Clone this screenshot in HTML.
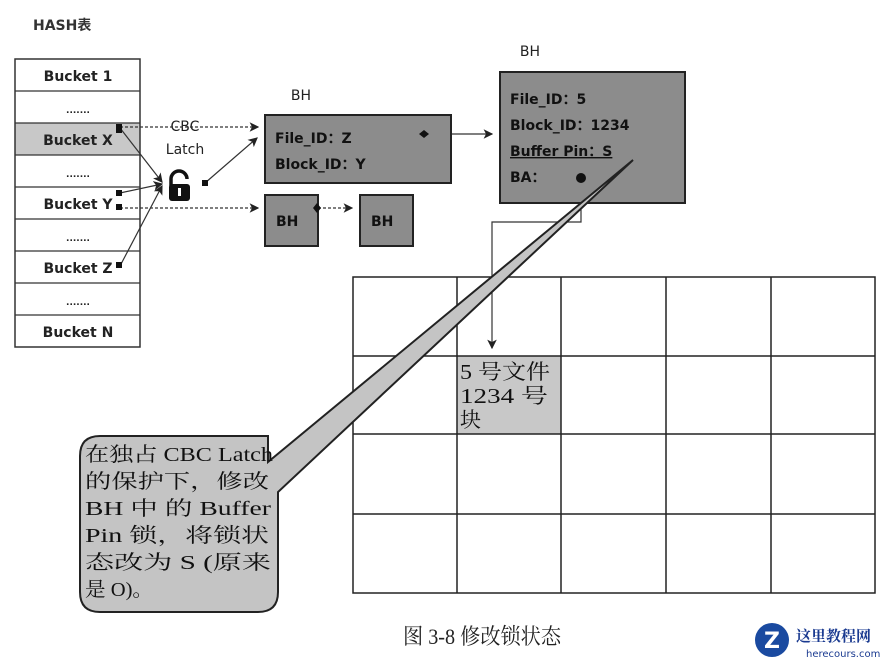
<!DOCTYPE html>
<html><head><meta charset="utf-8"><style>
body{margin:0;width:889px;height:665px;background:#fff;overflow:hidden}
</style></head><body>
<svg width="889" height="665" xmlns="http://www.w3.org/2000/svg" font-family="'DejaVu Sans','Liberation Sans',sans-serif">
<defs><marker id="a" markerWidth="8" markerHeight="8" refX="7" refY="4" orient="auto"><path d="M0,0 L8,4 L0,8 L2,4z" fill="#222"/></marker></defs>
<text x="33" y="30" font-size="14" font-weight="bold" fill="#333" font-family="'DejaVu Sans','Noto Sans CJK SC',sans-serif">HASH表</text>
<rect x="15" y="123" width="125" height="32" fill="#c8c8c8"/>
<rect x="15" y="59" width="125" height="288" fill="none" stroke="#333" stroke-width="1.5"/>
<g stroke="#333" stroke-width="1.2">
<line x1="15" y1="91" x2="140" y2="91"/><line x1="15" y1="123" x2="140" y2="123"/><line x1="15" y1="155" x2="140" y2="155"/><line x1="15" y1="187" x2="140" y2="187"/><line x1="15" y1="219" x2="140" y2="219"/><line x1="15" y1="251" x2="140" y2="251"/><line x1="15" y1="283" x2="140" y2="283"/><line x1="15" y1="315" x2="140" y2="315"/></g>
<g font-size="14" font-weight="bold" fill="#222" text-anchor="middle">
<text x="78" y="81">Bucket 1</text><text x="78" y="145">Bucket X</text><text x="78" y="209">Bucket Y</text><text x="78" y="273">Bucket Z</text><text x="78" y="337">Bucket N</text>
<text x="78" y="113" font-size="9">.......</text><text x="78" y="177" font-size="9">.......</text><text x="78" y="241" font-size="9">.......</text><text x="78" y="305" font-size="9">.......</text></g>
<g font-size="14" fill="#222" text-anchor="middle"><text x="185" y="131">CBC</text><text x="185" y="154">Latch</text><text x="301" y="100">BH</text><text x="530" y="56">BH</text></g>
<g stroke="#333" stroke-width="1.2" fill="none">
<line x1="120" y1="127" x2="258" y2="127" stroke-dasharray="3,2" marker-end="url(#a)"/>
<line x1="120" y1="208" x2="258" y2="208" stroke-dasharray="3,2" marker-end="url(#a)"/>
<line x1="318" y1="208" x2="352" y2="208" stroke-dasharray="3,2" marker-end="url(#a)"/>
<line x1="120" y1="128" x2="162" y2="182" marker-end="url(#a)"/>
<line x1="120" y1="193" x2="162" y2="184" marker-end="url(#a)"/>
<line x1="120" y1="266" x2="162" y2="186" marker-end="url(#a)"/>
<line x1="205" y1="183" x2="257" y2="138" marker-end="url(#a)"/>
<line x1="428" y1="134" x2="492" y2="134" marker-end="url(#a)"/>
<polyline points="581,178 581,222 492,222 492,348" marker-end="url(#a)"/>
</g>
<g fill="#111"><rect x="116" y="124" width="6" height="9"/><rect x="116" y="190" width="6" height="6"/><rect x="116" y="204" width="6" height="6"/><rect x="116" y="262" width="6" height="6"/><rect x="202" y="180" width="6" height="6"/></g>
<path d="M171,186 v-7 a8,8 0 0 1 16,0" fill="none" stroke="#111" stroke-width="3.5"/>
<rect x="169" y="184" width="21" height="17" rx="3" fill="#111"/><rect x="178" y="188" width="3" height="8" fill="#fff"/>
<rect x="265" y="115" width="186" height="68" fill="#8c8c8c" stroke="#222" stroke-width="2"/>
<rect x="265" y="195" width="53" height="51" fill="#8c8c8c" stroke="#222" stroke-width="2"/>
<rect x="360" y="195" width="53" height="51" fill="#8c8c8c" stroke="#222" stroke-width="2"/>
<rect x="500" y="72" width="185" height="131" fill="#8c8c8c" stroke="#222" stroke-width="2"/>
<g font-size="14" font-weight="bold" fill="#111">
<text x="275" y="143">File_ID：Z</text><text x="275" y="169">Block_ID：Y</text>
<text x="276" y="226">BH</text><text x="371" y="226">BH</text>
<text x="510" y="104">File_ID：5</text><text x="510" y="130">Block_ID：1234</text><text x="510" y="156" text-decoration="underline">Buffer Pin：S</text><text x="510" y="182">BA：</text></g>
<path d="M424,130 l5,4 -5,4 -5,-4z M317,203 l4,5 -4,5 -4,-5z" fill="#111"/>
<circle cx="581" cy="178" r="5" fill="#111"/>
<rect x="457" y="356" width="104" height="78" fill="#c8c8c8"/>
<g stroke="#222" stroke-width="1.5" fill="none">
<rect x="353" y="277" width="522" height="316"/>
<line x1="457" y1="277" x2="457" y2="593"/><line x1="561" y1="277" x2="561" y2="593"/><line x1="666" y1="277" x2="666" y2="593"/><line x1="771" y1="277" x2="771" y2="593"/>
<line x1="353" y1="356" x2="875" y2="356"/><line x1="353" y1="434" x2="875" y2="434"/><line x1="353" y1="514" x2="875" y2="514"/></g>
<g font-size="21" fill="#111" font-family="'Liberation Serif','Noto Serif CJK SC',serif"><text x="460" y="379" textLength="90" lengthAdjust="spacingAndGlyphs">5 号文件</text><text x="460" y="403" textLength="88" lengthAdjust="spacingAndGlyphs">1234 号</text><text x="460" y="427">块</text></g>
<path d="M100,436 H268 V462 L633,160 L278,492 V592 Q278,612 258,612 H100 Q80,612 80,592 V456 Q80,436 100,436z" fill="#c4c4c4" stroke="#222" stroke-width="2"/>
<g font-size="20" fill="#111" font-family="'Liberation Serif','Noto Serif CJK SC',serif" lengthAdjust="spacingAndGlyphs">
<text x="85" y="461" textLength="188" lengthAdjust="spacingAndGlyphs">在独占 CBC Latch</text><text x="85" y="488" textLength="184" lengthAdjust="spacingAndGlyphs">的保护下，修改</text><text x="85" y="515" textLength="186" lengthAdjust="spacingAndGlyphs">BH 中  的 Buffer</text><text x="85" y="542" textLength="184" lengthAdjust="spacingAndGlyphs">Pin 锁，将锁状</text><text x="85" y="569" textLength="186" lengthAdjust="spacingAndGlyphs">态改为 S (原来</text><text x="85" y="596" textLength="68" lengthAdjust="spacingAndGlyphs">是 O)。</text></g>
<text x="403" y="644" font-size="22" fill="#222" font-family="'Liberation Serif','Noto Serif CJK SC',serif" textLength="158" lengthAdjust="spacingAndGlyphs">图 3-8    修改锁状态</text>
<circle cx="772" cy="640" r="17" fill="#1a4aa0"/><text x="772" y="648" font-size="22" font-weight="bold" fill="#fff" text-anchor="middle">Z</text>
<text x="796" y="641" font-size="15" font-weight="bold" fill="#1a3a90" font-family="'Noto Serif CJK SC',serif">这里教程网</text>
<text x="806" y="657" font-size="10" fill="#1a3a90">herecours.com</text>
</svg>
</body></html>
